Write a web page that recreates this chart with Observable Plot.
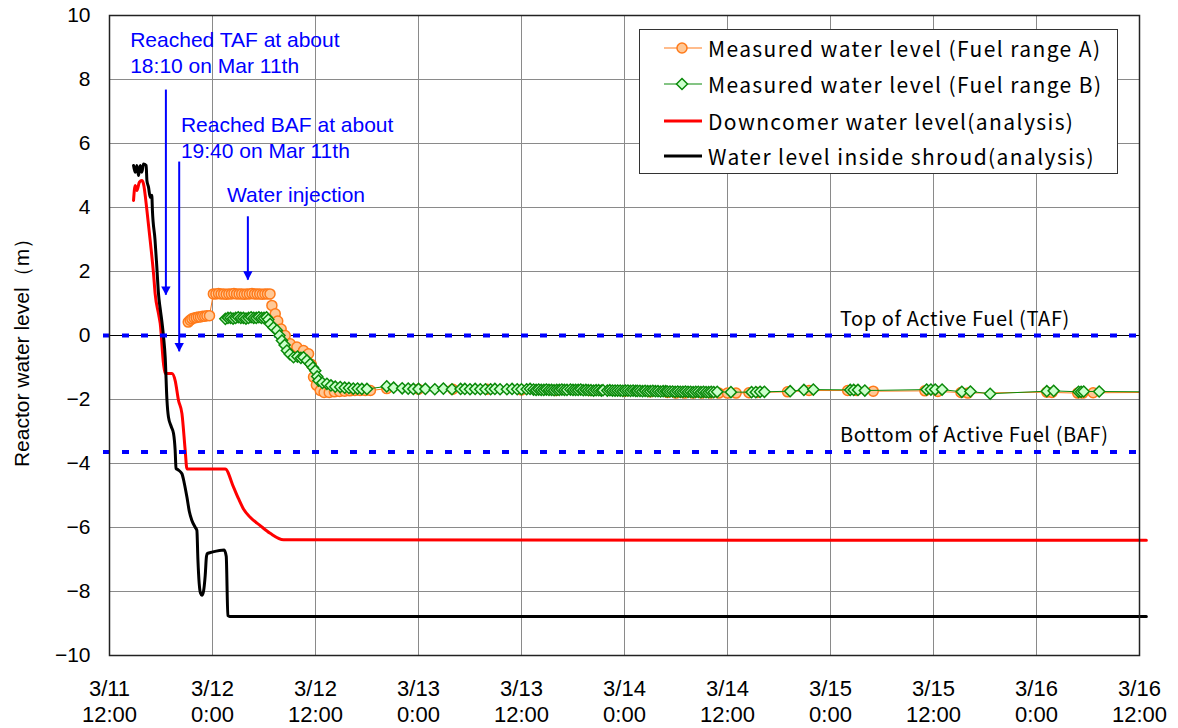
<!DOCTYPE html>
<html><head><meta charset="utf-8">
<script src="https://cdn.jsdelivr.net/npm/d3@7"></script>
<script src="https://cdn.jsdelivr.net/npm/@observablehq/plot@0.6"></script>
<style>
body{margin:0;background:#fff;}
#wrap{position:relative;width:1178px;height:728px;}
#legend{position:absolute;left:639px;top:29px;width:479px;height:145px;border:1.5px solid #333;background:#fff;box-sizing:border-box;font-family:"Noto Sans CJK JP",sans-serif;font-size:21px;letter-spacing:1.4px;color:#000;}
.row{position:absolute;left:23px;height:34px;display:flex;align-items:center;white-space:nowrap;}
.row svg{margin-right:5px;}
</style></head><body><div id="wrap"></div>
<script>
// ---- axis ticks (hours after 3/11 12:00) ----
const xTicks = [0,12,24,36,48,60,72,84,96,108,120];
const xTickLabels = ["3/11\n12:00","3/12\n0:00","3/12\n12:00","3/13\n0:00","3/13\n12:00","3/14\n0:00","3/14\n12:00","3/15\n0:00","3/15\n12:00","3/16\n0:00","3/16\n12:00"];
const yTicks = [-10,-8,-6,-4,-2,0,2,4,6,8,10];

// ---- Water level inside shroud (analysis) ----
const shroudT = [2.80,2.99,3.19,3.38,3.58,3.77,3.96,4.27,4.36,4.55,4.74,4.93,5.00,5.30,5.50,5.71,5.90,6.10,6.30,6.49,6.69,6.87,7.20,7.46,7.65,7.75,8.00,8.44,8.70,9.02,9.30,9.60,10.00,10.18,10.30,10.45,10.60,10.77,10.95,11.15,11.30,11.42,11.93,13.36,13.60,13.79,14.00,120.8];
const shroudY = [5.31,5.10,5.31,5.00,5.31,5.10,5.36,5.31,4.84,4.63,4.32,4.38,3.91,3.00,2.20,1.30,0.85,0.45,-0.05,-0.68,-2.00,-2.55,-2.85,-3.06,-3.59,-4.15,-4.20,-4.32,-4.60,-5.05,-5.50,-5.78,-6.00,-6.09,-7.00,-7.75,-8.05,-8.12,-8.00,-7.50,-6.90,-6.81,-6.77,-6.70,-6.90,-8.75,-8.78,-8.78];

// ---- Downcomer water level (analysis) ----
const downT = [2.80,2.99,3.19,3.48,3.77,3.96,4.36,4.74,5.13,5.32,5.71,5.91,6.29,6.49,7.27,7.65,8.04,8.44,8.82,9.02,13.48,14.45,15.03,15.61,16.39,17.56,18.72,20.27,120.8];
const downY = [4.22,4.69,4.53,4.79,4.84,4.74,3.91,2.97,1.93,1.30,0.68,0.37,-0.88,-1.19,-1.19,-1.41,-2.03,-2.44,-3.59,-4.17,-4.17,-4.74,-5.10,-5.42,-5.68,-5.94,-6.18,-6.38,-6.40];

// ---- Measured water level (Fuel range A) ----
const rangeAT = [9.17,9.40,9.60,9.85,10.10,10.35,10.60,10.85,11.10,11.35,11.65,
 12.10,12.40,12.70,13.00,13.30,13.60,13.90,14.20,14.50,14.80,15.10,15.40,15.70,16.00,16.30,16.60,16.90,17.20,17.50,17.80,18.10,18.40,18.70,
 18.92,19.31,19.60,20.00,20.47,21.05,21.83,22.60,23.19,23.50,23.77,24.10,24.55,25.00,25.60,26.20,26.80,27.40,28.00,28.60,29.20,29.80,30.40,
 32.30,36.00,40.00,44.00,48.00,52.00,56.00,60.00,63.00,65.00,66.00,67.00,68.00,69.00,70.00,71.00,72.00,73.00,74.50,75.50,79.00,81.50,86.00,87.00,88.98,95.00,96.50,99.20,100.00,109.20,109.80,112.80,113.40,114.60,121.0];
const rangeAY = [0.42,0.48,0.52,0.55,0.56,0.58,0.58,0.60,0.60,0.62,0.62,
 1.30,1.30,1.31,1.30,1.30,1.29,1.30,1.30,1.31,1.30,1.30,1.30,1.29,1.30,1.30,1.31,1.30,1.30,1.30,1.29,1.30,1.30,1.30,
 0.94,0.68,0.45,0.20,0.00,-0.26,-0.36,-0.47,-0.57,-0.90,-1.30,-1.55,-1.72,-1.78,-1.78,-1.76,-1.75,-1.74,-1.73,-1.72,-1.72,-1.72,-1.72,
 -1.66,-1.68,-1.68,-1.68,-1.70,-1.72,-1.72,-1.74,-1.76,-1.78,-1.80,-1.80,-1.80,-1.80,-1.80,-1.80,-1.80,-1.80,-1.79,-1.78,-1.76,-1.72,-1.72,-1.72,-1.74,-1.73,-1.75,-1.78,-1.80,-1.77,-1.78,-1.80,-1.80,-1.79,-1.78];

// ---- Measured water level (Fuel range B) ----
const rangeBT = [13.50,13.80,14.10,14.40,14.70,15.00,15.30,15.60,15.90,16.20,16.50,16.80,17.10,17.40,17.70,18.00,18.30,
 18.50,18.72,19.10,19.50,19.80,20.09,20.40,20.67,21.00,21.44,21.90,22.30,22.60,23.00,23.38,23.70,23.97,24.20,24.35,24.80,25.33,25.80,26.30,26.88,27.40,27.90,28.40,28.90,29.40,29.99,
 32.30,33.10,34.10,34.80,35.40,36.00,36.80,37.90,38.90,39.90,40.90,41.40,42.00,42.60,43.20,43.80,44.40,44.90,45.50,46.30,46.90,47.50,48.00,48.60,49.00,
 49.40,49.70,50.00,50.30,50.60,50.90,51.20,51.50,51.80,52.10,52.40,52.70,53.00,53.30,
 53.70,54.00,54.30,54.60,54.90,
 55.20,55.50,55.80,56.10,56.40,56.70,57.00,57.30,57.50,
 58.00,58.30,58.60,58.90,59.20,
 59.50,59.80,60.10,60.40,60.70,61.00,61.30,61.50,
 61.80,62.10,62.40,62.70,63.00,63.30,63.60,63.90,64.20,64.50,64.80,65.00,
 65.30,65.60,65.90,66.20,66.50,66.80,67.10,67.40,67.70,68.00,68.30,68.60,68.90,69.20,69.50,69.80,70.10,70.40,70.80,
 72.40,74.80,75.30,75.80,76.30,79.30,80.90,82.00,86.30,86.70,87.20,88.00,95.20,95.70,96.20,97.00,99.30,100.30,102.60,109.20,110.00,112.90,113.20,113.50,115.30,121.0];
const rangeBY = [0.52,0.55,0.55,0.53,0.55,0.57,0.55,0.55,0.53,0.55,0.57,0.55,0.55,0.57,0.55,0.55,0.57,
 0.50,0.36,0.25,0.16,0.00,-0.16,-0.30,-0.47,-0.58,-0.68,-0.66,-0.70,-0.68,-0.78,-0.89,-1.00,-1.10,-1.28,-1.41,-1.48,-1.51,-1.56,-1.60,-1.61,-1.63,-1.64,-1.66,-1.66,-1.67,-1.67,
 -1.59,-1.63,-1.65,-1.66,-1.67,-1.67,-1.67,-1.68,-1.66,-1.68,-1.67,-1.67,-1.68,-1.67,-1.68,-1.68,-1.68,-1.67,-1.68,-1.68,-1.67,-1.68,-1.68,-1.68,-1.67,
 -1.69,-1.70,-1.69,-1.70,-1.70,-1.69,-1.70,-1.70,-1.71,-1.70,-1.70,-1.69,-1.70,-1.70,
 -1.69,-1.70,-1.70,-1.70,-1.69,
 -1.71,-1.70,-1.71,-1.71,-1.72,-1.71,-1.71,-1.72,-1.71,
 -1.72,-1.71,-1.72,-1.72,-1.72,
 -1.72,-1.73,-1.72,-1.72,-1.73,-1.72,-1.73,-1.73,
 -1.73,-1.74,-1.73,-1.74,-1.74,-1.73,-1.74,-1.74,-1.75,-1.74,-1.74,-1.75,
 -1.75,-1.75,-1.76,-1.75,-1.76,-1.76,-1.75,-1.76,-1.76,-1.77,-1.76,-1.76,-1.77,-1.76,-1.77,-1.77,-1.76,-1.77,-1.76,
 -1.77,-1.77,-1.77,-1.76,-1.76,-1.74,-1.70,-1.69,-1.70,-1.70,-1.70,-1.72,-1.69,-1.69,-1.69,-1.69,-1.76,-1.75,-1.82,-1.74,-1.73,-1.76,-1.76,-1.75,-1.75,-1.76];

// ---- reference levels ----
const levelNames = ["Top of Active Fuel (TAF)", "Bottom of Active Fuel (BAF)"];
const levelValues = [0, -3.64];
const levelLabelX = [85.1, 85.1];

// ---- annotations ----
const noteText = ["Reached TAF at about\n18:10 on Mar 11th", "Reached BAF at about\n19:40 on Mar 11th", "Water injection"];
const noteX = [2.41, 8.32, 13.68];
const noteY = [8.19, 5.54, 4.18];
const arrowX = [6.57, 8.12, 16.12];
const arrowFrom = [7.67, 5.42, 3.71];
const arrowTo = [1.26, -0.51, 1.73];

// ---- legend ----
const legendLabels = ["Measured water level (Fuel range A)", "Measured water level (Fuel range B)", "Downcomer water level(analysis)", "Water level inside shroud(analysis)"];

// build tables
const shroud = shroudT.map((t,i)=>({t, v: shroudY[i]}));
const down = downT.map((t,i)=>({t, v: downY[i]}));
const rangeA = rangeAT.map((t,i)=>({t, v: rangeAY[i]}));
const rangeB = rangeBT.map((t,i)=>({t, v: rangeBY[i]}));
const levels = levelValues.map((v,i)=>({v, name: levelNames[i], x: levelLabelX[i]}));
const notes = noteText.map((text,i)=>({text, x: noteX[i], y: noteY[i]}));
const arrows = arrowX.map((x,i)=>({x, y1: arrowFrom[i], y2: arrowTo[i]}));

const arrowHead = {draw(ctx, size){ const k = Math.sqrt(size/50.27); ctx.moveTo(0,0); ctx.lineTo(-4.7*k,-8.8*k); ctx.lineTo(4.7*k,-8.8*k); ctx.closePath(); }};

const sans = "'Liberation Sans', Arial, sans-serif";
const gothic = "'Noto Sans CJK JP', sans-serif";
const cOrange = "#ff7a1a", cOrangeFill = "#ffc896", cGreen = "#0a8a0a", cGreenFill = "#ccffcc", cBlue = "#0000ff";

const chart = Plot.plot({
  width: 1178, height: 728,
  marginLeft: 109, marginRight: 39, marginTop: 15, marginBottom: 73,
  style: {background: "#fff", overflow: "visible"},
  x: {domain: [0, 120]},
  y: {domain: [-10, 10]},
  marks: [
    Plot.gridX(xTicks, {stroke: "#8a8a8a", strokeOpacity: 1, strokeWidth: 1}),
    Plot.gridY(yTicks, {stroke: "#8a8a8a", strokeOpacity: 1, strokeWidth: 1}),
    Plot.ruleY([0], {stroke: "#000", strokeWidth: 1}),
    Plot.line(down, {x: "t", y: "v", stroke: "#ff0000", strokeWidth: 3, curve: "monotone-x"}),
    Plot.line(shroud, {x: "t", y: "v", stroke: "#000", strokeWidth: 3, curve: "monotone-x"}),
    Plot.ruleY(levels, {y: "v", stroke: cBlue, strokeWidth: 4, strokeDasharray: "7,12", insetLeft: -6}),
    Plot.line(rangeA, {x: "t", y: "v", stroke: cOrange, strokeWidth: 1, clip: true}),
    Plot.dot(rangeA, {x: "t", y: "v", r: 5, fill: cOrangeFill, stroke: cOrange, strokeWidth: 1.5, clip: true}),
    Plot.line(rangeB, {x: "t", y: "v", stroke: cGreen, strokeWidth: 1, clip: true}),
    Plot.dot(rangeB, {x: "t", y: "v", r: 5, symbol: "diamond2", fill: cGreenFill, stroke: cGreen, strokeWidth: 1.5, clip: true}),
    Plot.ruleX(arrows, {x: "x", y1: "y1", y2: "y2", stroke: cBlue, strokeWidth: 2}),
    Plot.dot(arrows, {x: "x", y: "y2", symbol: arrowHead, r: 4, fill: cBlue, stroke: "none"}),
    Plot.text(notes, {x: "x", y: "y", text: "text", textAnchor: "start", lineAnchor: "bottom", lineHeight: 1.27, fontSize: 21, fontFamily: sans, fill: cBlue}),
    Plot.text(levels, {x: "x", y: "v", text: "name", textAnchor: "start", lineAnchor: "bottom", dy: -10, fontSize: 20, fontFamily: gothic, fill: "#000"}),
    Plot.frame({stroke: "#222", strokeWidth: 1.5}),
    Plot.axisX(xTicks, {tickFormat: d => xTickLabels[xTicks.indexOf(d)], tickSize: 0, tickPadding: 22, fontSize: 22, fontFamily: sans, lineHeight: 1.18, label: null}),
    Plot.axisY(yTicks, {tickSize: 0, tickPadding: 19, fontSize: 21, fontFamily: sans, label: null}),
    Plot.text(["Reactor water level（m）"], {frameAnchor: "left", dx: -87, dy: 12, rotate: -90, textAnchor: "middle", lineAnchor: "middle", fontSize: 21, fontFamily: sans, fill: "#000"})
  ]
});

const wrap = document.getElementById("wrap");
wrap.appendChild(chart);
// letter spacing for level labels (mimic the reference's wide gothic font)
chart.querySelectorAll("text").forEach(t => {
  if (levelNames.includes(t.textContent)) t.setAttribute("letter-spacing", "0.6");
});

// legend box (overlay, inside the plot area as in the reference)
const leg = document.createElement("div");
leg.id = "legend";
const rowCenters = [19, 55.5, 92, 127.5];
legendLabels.forEach((label, i) => {
  const row = document.createElement("div");
  row.className = "row";
  row.style.top = (rowCenters[i] - 17 - 1.5) + "px";
  const ns = "http://www.w3.org/2000/svg";
  const s = document.createElementNS(ns, "svg");
  s.setAttribute("width", 40); s.setAttribute("height", 20);
  const color = [cOrange, cGreen, "#ff0000", "#000"][i];
  const ln = document.createElementNS(ns, "line");
  ln.setAttribute("x1", 1); ln.setAttribute("x2", 39); ln.setAttribute("y1", 10); ln.setAttribute("y2", 10);
  ln.setAttribute("stroke", color); ln.setAttribute("stroke-width", i < 2 ? 1.2 : 3);
  s.appendChild(ln);
  if (i === 0) {
    const c = document.createElementNS(ns, "circle");
    c.setAttribute("cx", 19); c.setAttribute("cy", 10); c.setAttribute("r", 5);
    c.setAttribute("fill", cOrangeFill); c.setAttribute("stroke", cOrange); c.setAttribute("stroke-width", 1.5);
    s.appendChild(c);
  } else if (i === 1) {
    const p = document.createElementNS(ns, "path");
    p.setAttribute("d", "M19,4.5L24.5,10L19,15.5L13.5,10Z");
    p.setAttribute("fill", cGreenFill); p.setAttribute("stroke", cGreen); p.setAttribute("stroke-width", 1.5);
    s.appendChild(p);
  }
  row.appendChild(s);
  const sp = document.createElement("span");
  sp.textContent = label;
  row.appendChild(sp);
  leg.appendChild(row);
});
wrap.appendChild(leg);
</script>
</body></html>
